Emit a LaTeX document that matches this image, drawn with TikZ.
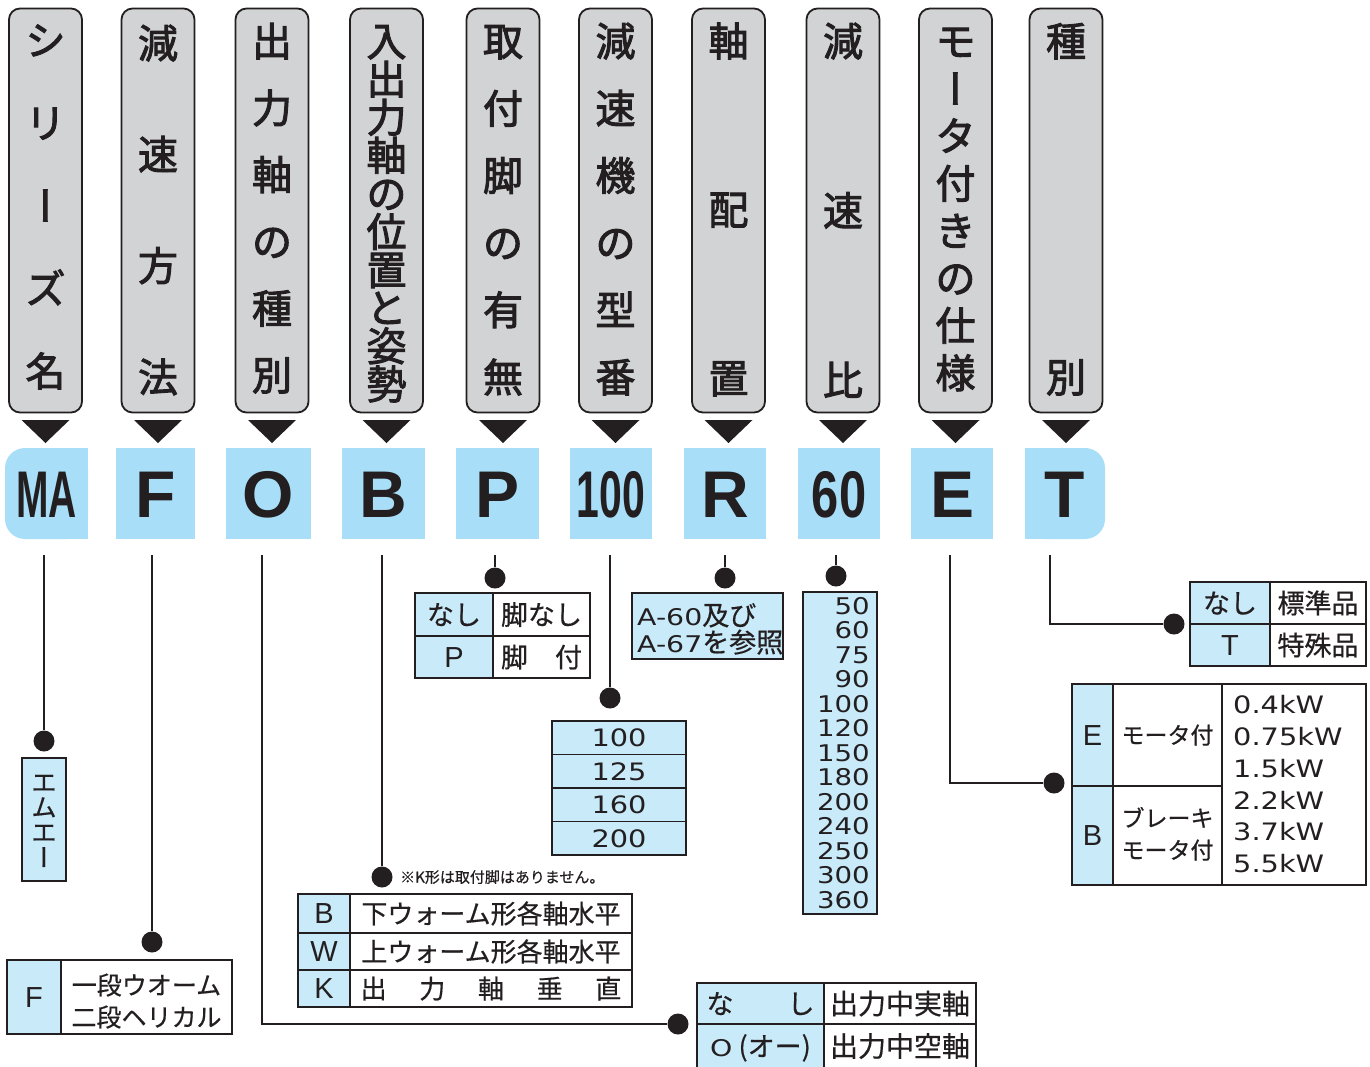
\documentclass[tikz,border=0pt]{standalone}
\usepackage{fontspec}
\usepackage{graphicx}
\newfontfamily\jp{Noto Sans CJK JP}[FakeBold=0.5]
\newfontfamily\jpm{Noto Sans CJK JP}[FakeBold=2.4]
\newfontfamily\latf{DejaVu Sans}
\newfontfamily\codef{Liberation Sans}
\newcommand\latx[1]{{\latf\scalebox{1.05}[0.85]{#1}}}
\newcommand\wide[1]{\scalebox{1.2}[1]{#1}}
\definecolor{hdrgray}{HTML}{D1D3D4}
\definecolor{codeblue}{HTML}{A8DEF8}
\definecolor{cellblue}{HTML}{C8EAF9}
\definecolor{ink}{HTML}{231F20}
\begin{document}
\begin{tikzpicture}[x=1pt,y=-1pt,
  hdr/.style={draw=ink,line width=1.8pt,fill=hdrgray,rounded corners=11pt,minimum width=73pt,minimum height=404pt,inner sep=0pt},
  hch/.style={font=\jpm\fontsize{40}{40}\selectfont,text height=35.2pt,text depth=4.8pt,inner sep=0pt,text=ink},
  codebox/.style={fill=codeblue,minimum height=91pt,inner sep=0pt},
  code/.style={font=\codef\bfseries\fontsize{66}{66}\selectfont,text height=47.3pt,text depth=0pt,inner sep=0pt,text=ink},
  cell/.style={draw=ink,line width=1.6pt,inner sep=0pt,text=ink},
  cb/.style={fill=cellblue},
  cw/.style={fill=white},
  jpf/.style={font=\jp\fontsize{#1}{#1}\selectfont,text height=0.88*#1pt,text depth=0.12*#1pt,text=ink},
  lat/.style={font=\latf\fontsize{#1}{#1}\selectfont,text height=0.73*#1pt,text depth=0pt,text=ink},
  let/.style={font=\codef\fontsize{#1}{#1}\selectfont,text height=0.716*#1pt,text depth=0pt,text=ink},
  bdot/.style={circle,fill=ink,minimum size=21pt,inner sep=0pt},
  conn/.style={draw=ink,line width=1.8pt}
]
\useasboundingbox (0,0) rectangle (1370,1066);

% ---------- header boxes ----------
\node[hdr] (h1) at (45.5,210.5) {};
\node[hdr] (h2) at (158,210.5) {};
\node[hdr] (h3) at (272,210.5) {};
\node[hdr] (h4) at (386.5,210.5) {};
\node[hdr] (h5) at (503,210.5) {};
\node[hdr] (h6) at (615.5,210.5) {};
\node[hdr] (h7) at (728.5,210.5) {};
\node[hdr] (h8) at (843,210.5) {};
\node[hdr] (h9) at (955.5,210.5) {};
\node[hdr] (h10) at (1066,210.5) {};

\foreach \c/\r [count=\i] in {シ/0,リ/0,ー/90,ズ/0,名/0}
  \node[hch,rotate=\r] (h1c\i) at (45.5,{40+(\i-1)*82.75}) {\c};
\foreach \c [count=\i] in {減,速,方,法}
  \node[hch] (h2c\i) at (158,{43+(\i-1)*111.3}) {\c};
\foreach \c [count=\i] in {出,力,軸,の,種,別}
  \node[hch] (h3c\i) at (272,{41+(\i-1)*66.8}) {\c};
\foreach \c [count=\i] in {入,出,力,軸,の,位,置,と,姿,勢}
  \node[hch] (h4c\i) at (386.5,{41+(\i-1)*38.1}) {\c};
\foreach \c [count=\i] in {取,付,脚,の,有,無}
  \node[hch] (h5c\i) at (503,{41+(\i-1)*67.2}) {\c};
\foreach \c [count=\i] in {減,速,機,の,型,番}
  \node[hch] (h6c\i) at (615.5,{41+(\i-1)*67.2}) {\c};
\foreach \c [count=\i] in {軸,配,置}
  \node[hch] (h7c\i) at (728.5,{41+(\i-1)*168.5}) {\c};
\foreach \c [count=\i] in {減,速,比}
  \node[hch] (h8c\i) at (843,{41+(\i-1)*169.5}) {\c};
\foreach \c/\r [count=\i] in {モ/0,ー/90,タ/0,付/0,き/0,の/0,仕/0,様/0}
  \node[hch,rotate=\r] (h9c\i) at (955.5,{41+(\i-1)*47.4}) {\c};
\foreach \c [count=\i] in {種,別}
  \node[hch] (h10c\i) at (1066,{41+(\i-1)*336}) {\c};

% ---------- triangles ----------
\foreach \x in {45.5,158,272,386.5,503,615.5,728.5,843,955.5,1066}
  \fill[ink] ({\x-24},420) -- ({\x+24},420) -- (\x,443) -- cycle;

% ---------- code boxes ----------
\fill[codeblue,rounded corners=20pt] (5,448) rectangle (88,539);
\fill[codeblue] (50,448) rectangle (88,539);
\node[code] (cMA) at (46.5,493.5) {\scalebox{0.59}[1]{MA}};
\node[codebox,code,minimum width=79pt] (cF) at (155.5,493.5) {F};
\node[codebox,code,minimum width=85pt] (cO) at (268.5,493.5) {O};
\node[codebox,code,minimum width=83pt] (cB) at (383.5,493.5) {B};
\node[codebox,code,minimum width=83pt] (cP) at (497.5,493.5) {P};
\node[codebox,code,minimum width=82pt] (c100) at (611,493.5) {\scalebox{0.62}[1]{100}};
\node[codebox,code,minimum width=82pt] (cR) at (725,493.5) {R};
\node[codebox,code,minimum width=82pt] (c60) at (839,493.5) {\scalebox{0.74}[1]{60}};
\node[codebox,code,minimum width=82pt] (cE) at (952,493.5) {E};
\fill[codeblue,rounded corners=20pt] (1025,448) rectangle (1105,539);
\fill[codeblue] (1025,448) rectangle (1065,539);
\node[code] (cT) at (1065,493.5) {T};

% ---------- dots ----------
\node[bdot] (dMA) at (44,741) {};
\node[bdot] (dF) at (152,942) {};
\node[bdot] (dO) at (678,1024) {};
\node[bdot] (dB) at (382,877) {};
\node[bdot] (dP) at (495,578) {};
\node[bdot] (d100) at (610,698) {};
\node[bdot] (dR) at (725,578) {};
\node[bdot] (d60) at (836,576) {};
\node[bdot] (dE) at (1054,783) {};
\node[bdot] (dT) at (1174,624) {};

% ---------- connectors ----------
\coordinate (sMA) at (44,555);
\coordinate (sF) at (152,555);
\coordinate (sO) at (262,555);
\coordinate (sB) at (382,555);
\coordinate (sP) at (495,555);
\coordinate (s100) at (610,555);
\coordinate (sR) at (725,555);
\coordinate (s60) at (836,555);
\coordinate (sE) at (950,555);
\coordinate (sT) at (1050,555);
\draw[conn] (sMA) -- (dMA);
\draw[conn] (sF) -- (dF);
\draw[conn] (sO) |- (dO);
\draw[conn] (sB) -- (dB);
\draw[conn] (sP) -- (dP);
\draw[conn] (s100) -- (d100);
\draw[conn] (sR) -- (dR);
\draw[conn] (s60) -- (d60);
\draw[conn] (sE) |- (dE);
\draw[conn] (sT) |- (dT);

% ---------- MA: エムエー ----------
\node[cell,cb,minimum width=44pt,minimum height=123pt] (mab) at (44,819.5) {};
\foreach \c/\r [count=\i] in {エ/0,ム/0,エ/0,ー/90}
  \node[jpf=25,inner sep=0pt,rotate=\r] (mac\i) at (44,{782+25*(\i-1)}) {\c};

% ---------- F table ----------
\node[cell,cb,let=29,minimum width=54pt,minimum height=74pt] (fk) at (34,997) {F};
\node[cell,cw,minimum width=171pt,minimum height=74pt] (fv) at (146.5,997) {};
\node[jpf=25,inner sep=0pt] (fv1) at (146.5,985) {一段ウオーム};
\node[jpf=25,inner sep=0pt] (fv2) at (146.5,1017) {二段ヘリカル};

% ---------- B table ----------
\node[jpf=15,anchor=west,inner sep=0pt] (note) at (400,877) {※K形は取付脚はありません。};
\node[cell,cb,let=29,minimum width=52pt,minimum height=39pt] (bk1) at (324,913.5) {B};
\node[cell,cw,jpf=26,minimum width=282pt,minimum height=39pt] (bv1) at (491,913.5) {下ウォーム形各軸水平};
\node[cell,cb,let=29,minimum width=52pt,minimum height=37pt] (bk2) at (324,951.5) {W};
\node[cell,cw,jpf=26,minimum width=282pt,minimum height=37pt] (bv2) at (491,951.5) {上ウォーム形各軸水平};
\node[cell,cb,let=29,minimum width=52pt,minimum height=37pt] (bk3) at (324,988.5) {K};
\node[cell,cw,jpf=26,minimum width=282pt,minimum height=37pt] (bv3) at (491,988.5) {出\hspace{32.7pt}力\hspace{32.7pt}軸\hspace{32.7pt}垂\hspace{32.7pt}直};

% ---------- O table ----------
\node[cell,cb,jpf=27,minimum width=127pt,minimum height=41pt] (ok1) at (760.5,1003.5) {な　　し};
\node[cell,cw,jpf=28,minimum width=152pt,minimum height=41pt] (ov1) at (900,1003.5) {出力中実軸};
\node[cell,cb,jpf=27,minimum width=127pt,minimum height=44pt] (ok2) at (760.5,1046) {\latx{O} (オー)};
\node[cell,cw,jpf=28,minimum width=152pt,minimum height=44pt] (ov2) at (900,1046) {出力中空軸};

% ---------- P table ----------
\node[cell,cb,jpf=27,minimum width=78pt,minimum height=43pt] (pk1) at (454,614.5) {なし};
\node[cell,cw,jpf=27,minimum width=97pt,minimum height=43pt] (pv1) at (541.5,614.5) {脚なし};
\node[cell,cb,let=29,minimum width=78pt,minimum height=42pt] (pk2) at (454,657) {P};
\node[cell,cw,jpf=27,minimum width=97pt,minimum height=42pt] (pv2) at (541.5,657) {脚　付};

% ---------- 100 table ----------
\foreach \v [count=\i] in {100,125,160,200}
  \node[cell,cb,lat=24,minimum width=134pt,minimum height=33.5pt] (m\i) at (619,{721+33.5*(\i-0.5)}) {\wide{\v}};

% ---------- R box ----------
\node[cell,cb,minimum width=151pt,minimum height=66pt] (rb) at (707.5,626) {};
\node[jpf=27,anchor=west,inner sep=0pt] (r1) at (637,615) {\latx{A-60}及び};
\node[jpf=27,anchor=west,inner sep=0pt] (r2) at (637,642) {\latx{A-67}を参照};

% ---------- 60 box ----------
\node[cell,cb,minimum width=74pt,minimum height=322pt] (sb) at (840,753) {};
\foreach \v [count=\i] in {50,60,75,90,100,120,150,180,200,240,250,300,360}
  \node[lat=23,anchor=east,inner sep=0pt] (s\i) at (870,{606+24.5*(\i-1)}) {\wide{\v}};

% ---------- E table ----------
\node[cell,cb,let=29,minimum width=41pt,minimum height=102pt] (ek1) at (1092.5,735) {E};
\node[cell,cb,let=29,minimum width=41pt,minimum height=99pt] (ek2) at (1092.5,835.5) {B};
\node[cell,cw,jpf=23,minimum width=109pt,minimum height=102pt] (ev1) at (1167.5,735) {モータ付};
\node[cell,cw,minimum width=109pt,minimum height=99pt] (ev2) at (1167.5,835.5) {};
\node[jpf=23,inner sep=0pt] (ev2a) at (1167.5,818) {ブレーキ};
\node[jpf=23,inner sep=0pt] (ev2b) at (1167.5,850) {モータ付};
\node[cell,cw,minimum width=144pt,minimum height=201pt] (ew) at (1294,784.5) {};
\foreach \v [count=\i] in {0.4kW,0.75kW,1.5kW,2.2kW,3.7kW,5.5kW}
  \node[lat=24,anchor=west,inner sep=0pt] (kw\i) at (1233,{705+31.8*(\i-1)}) {\wide{\v}};

% ---------- T table ----------
\node[cell,cb,jpf=27,minimum width=80pt,minimum height=42pt] (tk1) at (1230,603) {なし};
\node[cell,cw,jpf=27,minimum width=96pt,minimum height=42pt] (tv1) at (1318,603) {標準品};
\node[cell,cb,let=29,minimum width=80pt,minimum height=42pt] (tk2) at (1230,645) {T};
\node[cell,cw,jpf=27,minimum width=96pt,minimum height=42pt] (tv2) at (1318,645) {特殊品};
\end{tikzpicture}
\end{document}
